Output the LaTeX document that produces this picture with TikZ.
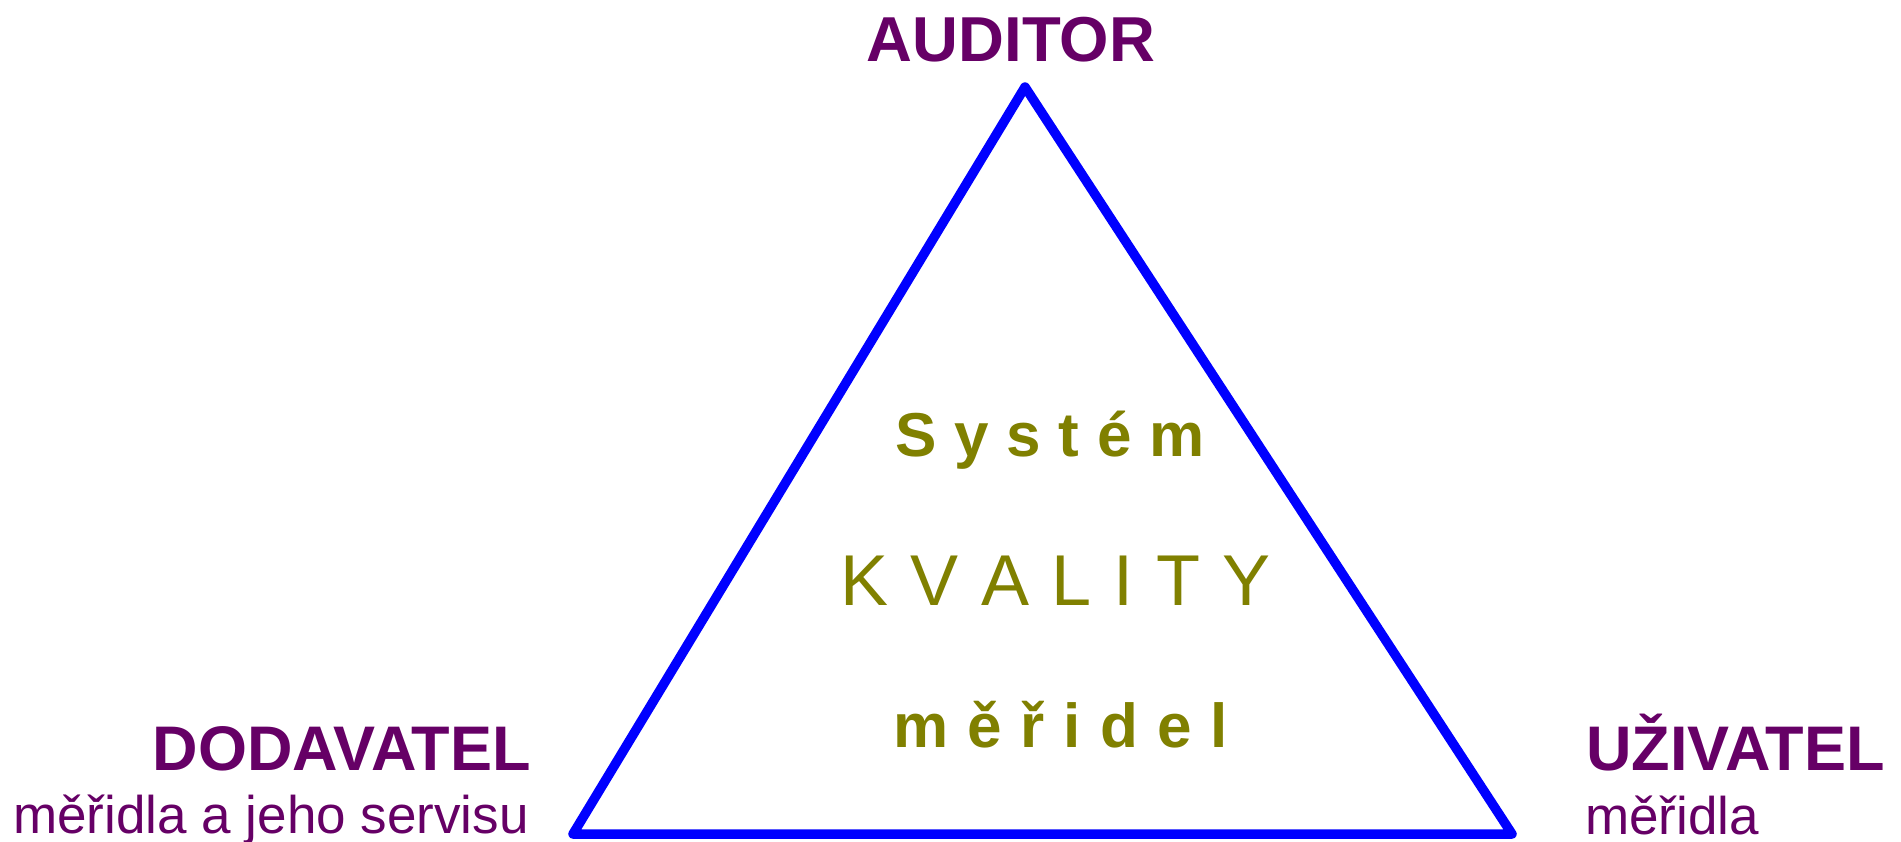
\documentclass[tikz,border=0pt]{standalone}
\usepackage{fontspec}
\setmainfont{Liberation Sans}
\definecolor{lbl}{HTML}{660066}
\definecolor{olv}{HTML}{808000}
\definecolor{tri}{HTML}{0000FF}
\begin{document}
\begin{tikzpicture}[x=1pt,y=-1pt,
  lab/.style={inner sep=0pt,text=lbl},
  mid/.style={inner sep=0pt,text=olv,anchor=base west},
  edge/.style={draw=tri,line width=9.5pt,line join=round,line cap=round}]
\useasboundingbox[fill=white] (0,0) rectangle (1901,841);
\coordinate (A) at (1025,87);
\coordinate (L) at (573,834);
\coordinate (R) at (1512,834);
\draw[edge] (A) -- (L) -- (R) -- cycle;
\node[lab,anchor=base,font=\fontsize{63.5}{70}\selectfont\bfseries] (auditor) at (1011,61) {AUDITOR};
\node[lab,anchor=base east,font=\fontsize{63}{70}\selectfont\bfseries] (dod) at (531,770) {DODAVATEL};
\node[lab,anchor=base east,font=\fontsize{53}{60}\selectfont] (dods) at (529,833) {měřidla a jeho servisu};
\node[lab,anchor=base west,font=\fontsize{63}{70}\selectfont\bfseries] (uziv) at (1586,770) {UŽIVATEL};
\node[lab,anchor=base west,font=\fontsize{53}{60}\selectfont] (uzivs) at (1585,834) {měřidla};
\node[mid,font=\fontsize{62}{70}\selectfont\bfseries] (sys) at (895,456) {S\hspace{17.8pt}y\hspace{17.8pt}s\hspace{17.8pt}t\hspace{17.8pt}é\hspace{17.8pt}m};
\node[mid,font=\fontsize{72}{80}\selectfont] (kval) at (840,605) {K\hspace{22.4pt}V\hspace{22.4pt}A\hspace{22.4pt}L\hspace{22.4pt}I\hspace{22.4pt}T\hspace{22.4pt}Y};
\node[mid,font=\fontsize{62}{70}\selectfont\bfseries] (mer) at (893,747) {m\hspace{19pt}ě\hspace{19pt}ř\hspace{19pt}i\hspace{19pt}d\hspace{19pt}e\hspace{19pt}l};
\end{tikzpicture}
\end{document}
